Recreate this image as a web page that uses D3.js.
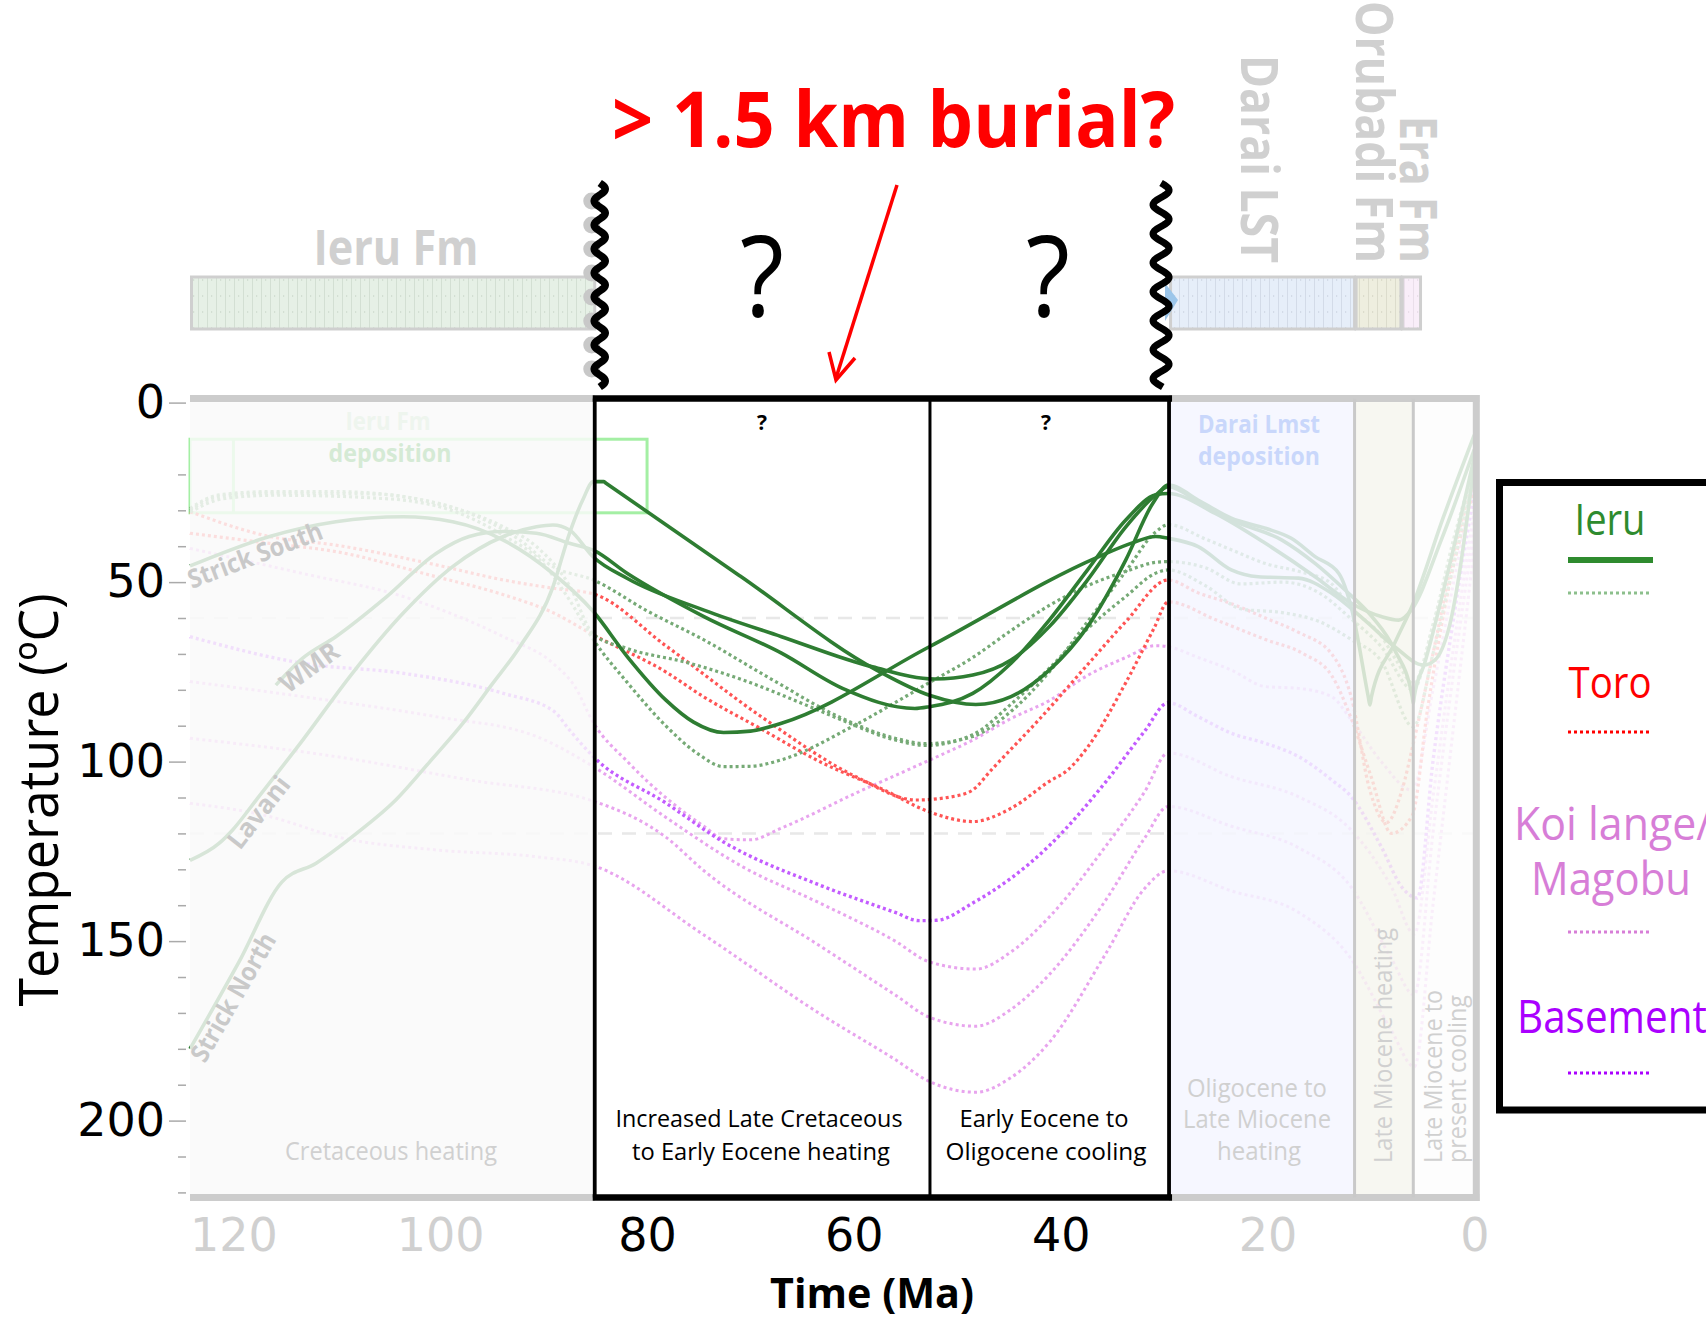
<!DOCTYPE html>
<html><head><meta charset="utf-8">
<script src="https://cdn.jsdelivr.net/npm/d3@7"></script>
<style>body{margin:0;background:#fff}svg{display:block}</style>
</head><body>
<svg id="c" width="1706" height="1321"></svg>
<script>
// ---------------- DATA (time Ma, temperature °C) ----------------
const strickNorth = [[124.2,180],[119.5,156],[115.3,133.5],[112.0,128.3],[108.1,120.0],[104.3,110.7],[101.0,100.0],[97.8,89.3],[95,78.5],[92.3,68.0],[89.1,51.3],[87.5,36.4],[86.2,27],[85.2,22.0],[84.2,22.0],[84.0,22.4],[71.0,48.3],[57.8,74.5],[52.7,81.5],[48.2,84.1],[44.8,81.9],[41.1,74.5],[37.4,62.4],[33.7,43.8],[31.1,28.1],[29.6,23.0],[26.5,27.5],[23.5,32.2],[20.2,35.0],[17.7,37.8],[15.4,42.9],[13.1,47.6],[11.9,57.0],[10.25,82.0],[10.1,84.2],[9.95,82.0],[7.7,67.0],[5.9,55.9],[3.0,32.0],[0.0,9.0]];
const wmr = [[115.9,78.7],[113.3,71.2],[110.1,65.2],[105.2,54.1],[100.4,42.0],[97.2,37.3],[93.9,35.9],[90.7,36.4],[87.5,39.2],[85.2,41.1],[81.9,47.6],[74.5,59.6],[67.0,69.8],[61.1,79.6],[54.1,85.2],[52.7,84.7],[48.5,81.0],[44.8,72.6],[41.1,60.6],[37.4,46.6],[33.7,32.7],[30.8,25.7],[29.6,25.3],[25.1,30.8],[20.2,39.2],[15.4,48.5],[11.9,55.9],[9.0,59.6],[7.3,60.6],[6.1,57.8],[3.2,38.3],[0.0,13.0]];
const lavani = [[124.2,127.5],[121.4,122.8],[120.1,119.1],[117.8,110.7],[113.3,94.0],[108.5,75.4],[103.6,58.7],[98.8,45.7],[93.9,37.3],[90.7,34.6],[89.1,34.1],[87.5,35.5],[85.2,43.0],[81.9,49.0],[74.5,57.8],[67.0,65.2],[58.2,73.6],[52.2,77.0],[48.5,75.9],[44.8,71.7],[41.1,62.4],[37.4,49.4],[33.7,34.6],[30.8,25.7],[29.6,23.4],[26.5,28.0],[23.5,32.7],[18.6,38.3],[15.4,44.8],[12.5,52.2],[9.9,59.6],[7.7,68.9],[6.0,82.0],[5.9,83.8],[5.8,81.8],[4.8,72.6],[2.5,46.6],[0.0,15.1]];
const strickSouth = [[124.2,45.5],[116.5,37.3],[110.1,33.2],[103.6,31.8],[98.8,33.2],[93.9,38.3],[89.1,47.6],[85.2,58.2],[81.9,70.8],[78.2,82.8],[75.5,89],[72.6,91.9],[70,91.5],[67.0,89.3],[52.7,68.0],[36.3,42.9],[33,39],[30.8,37.3],[29.6,37.8],[26.7,40.1],[23.5,46.6],[20.9,48.5],[17.0,48.9],[13.8,53.1],[10.6,60.6],[7.7,68.0],[4.9,73.1],[3.8,71.7],[2.5,63.3],[0.0,16.9]];

const ieruDot1 = [[124.2,29.5],[121.4,25.7],[116.5,24.8],[110.1,24.8],[103.6,26.2],[97.2,30.8],[92.3,38.3],[89.1,45.7],[85.2,49.4],[80.0,58.0],[74.5,66.1],[68.0,77.0],[61.1,88.0],[56.0,93.5],[53.0,95.0],[48.5,93.0],[44.8,86.0],[41.1,75.0],[37.4,61.0],[33.7,47.0],[30.8,36.0],[29.6,34.0],[26.0,38.0],[23.5,41.0],[20.0,45.0],[17.0,47.0],[14.0,50.0],[12.0,57.0],[9.0,65.0],[7.5,72.0],[5.9,78.2],[4.0,62.0],[2.0,38.0],[0.0,18.0]];
const ieruDot2 = [[124.2,30.0],[121.4,26.2],[116.5,25.2],[106.0,25.5],[100.4,28.1],[93.9,34.6],[90.7,40.1],[87.5,51.0],[85.2,64.5],[81.9,68.5],[76.0,72.5],[70.7,77.3],[64.0,85.0],[61.1,88.5],[56.0,94.0],[53.0,95.5],[48.5,92.5],[44.8,84.0],[41.1,74.0],[37.4,63.0],[33.7,54.0],[30.8,47.5],[29.6,46.6],[26.0,51.0],[22.5,57.5],[18.6,58.5],[15.0,61.0],[11.9,66.0],[9.0,72.0],[5.9,90.3],[4.0,70.0],[2.0,45.0],[0.0,20.0]];
const ieruDot3 = [[124.2,30.5],[121.0,26.8],[116.0,25.8],[105.0,26.8],[98.0,31.0],[93.9,37.0],[90.0,45.0],[87.5,55.0],[85.2,66.0],[81.9,78.0],[78.2,90.0],[75,98],[72.6,101.4],[70,101.3],[67.0,99.5],[60.0,90.0],[52.7,78.0],[48.5,71.0],[44.8,63.5],[41.1,56.5],[37.4,51.0],[33.7,47.0],[30.8,44.5],[29.6,44.3],[26.0,46.0],[22.6,50.5],[18.5,50.0],[15.0,53.0],[12.0,60.0],[9.0,68.0],[5.9,80.0],[4.0,62.0],[2.0,40.0],[0.0,19.0]];

const toroA = [[124.2,30.4],[116.5,37.3],[110.1,39.7],[100.4,45.2],[93.9,49.4],[89.1,51.7],[85.2,53.3],[78.2,67.7],[68.9,87.6],[59.6,104.5],[54.0,110.7],[50.0,109.5],[48.5,107.9],[46.7,102.3],[42.0,88.0],[37.4,73.0],[33.7,61.0],[29.6,49.4],[26.7,53.0],[23.5,56.0],[20.2,60.0],[17.0,64.0],[13.8,70.0],[11.9,82.0],[10.1,108.0],[8.5,117.0],[7.0,108.0],[5.9,95.0],[4.0,70.0],[2.0,42.0],[0.0,20.0]];
const toroB = [[124.2,36.4],[116.5,39.2],[110.1,41.5],[100.4,48.5],[93.9,53.5],[89.1,58.5],[85.2,64.7],[78.2,75.0],[74.5,82.0],[68.9,91.0],[63.3,100.0],[57,108],[52.7,114.0],[48.5,116.7],[44.8,113.0],[41.1,105.5],[39.3,102.3],[37.4,96.0],[33.7,78.0],[31.0,63.0],[29.6,55.5],[25.0,60.5],[20.2,66.0],[16.5,70.0],[13.8,76.0],[11.9,88.0],[10.0,104.0],[8.0,120.0],[6.0,115.0],[4.5,85.0],[2.5,52.0],[0.0,24.0]];

const koiA = [[124.2,40.6],[113.3,47.6],[103.6,54.0],[93.9,65.2],[89.1,72.6],[87,79],[85.2,89.1],[81.9,100.0],[78.2,110.0],[74.5,118.0],[72.6,121.5],[70.0,121.8],[67.0,118.5],[59.6,108.5],[52.7,99.6],[48.5,94.0],[44.8,88.0],[41.1,83.0],[37.4,76.0],[33.7,71.0],[30.8,67.7],[29.6,68.0],[26.7,71.0],[23.5,74.5],[20.2,79.1],[17.0,79.6],[13.8,81.9],[11.9,88.4],[9.0,100.0],[6.0,108.0],[4.0,80.0],[2.0,50.0],[0.0,22.0]];
const koiB = [[124.2,77.7],[113.3,81.9],[100.4,87.5],[90.7,93.0],[85.2,101.4],[78.2,115.5],[70.7,129.4],[63.3,139.4],[56,150],[52.7,155.8],[48.2,157.8],[44.8,153],[41.1,143.3],[35.6,123.4],[31.9,108.5],[29.6,97.6],[23.5,104.2],[17.0,109.8],[11.9,119.1],[8.0,135.0],[5.8,148.0],[4.0,110.0],[2.0,68.0],[0.0,30.0]];
const koiC = [[124.2,93.5],[110.1,98.6],[97.2,105.1],[85.2,111.0],[78.2,121.0],[74.5,130.4],[63.3,151.3],[56,165],[52.7,171.2],[48.2,173.7],[44.8,169],[41.1,159.3],[35.6,138.4],[31.9,121.4],[29.6,112.5],[23.5,118.0],[17.0,124.0],[11.9,135.0],[8.0,155.0],[5.8,165.0],[4.0,120.0],[2.0,75.0],[0.0,35.0]];
const koiD = [[124.2,111.6],[116.5,115.3],[110.1,120.9],[100.4,124.6],[90.7,126.5],[85.2,129.0],[74.5,148.3],[63.3,170.2],[56,183],[52.7,189.1],[48.2,192.1],[44.8,188],[41.1,178.2],[35.6,153.3],[31.9,135.4],[29.6,130.4],[23.5,136.0],[17.0,142.0],[11.9,155.0],[8.0,175.0],[5.8,185.0],[4.0,140.0],[2.0,90.0],[0.0,40.0]];
const basementA = [[124.2,65.2],[113.3,72.6],[103.6,75.4],[93.9,81.0],[89,86],[87.5,91.2],[85.2,98.6],[78.2,111.5],[72.6,122.4],[63.3,134.4],[56,142],[53.7,144.3],[52.0,144.2],[48.5,139.4],[41.1,123.4],[35.6,105.5],[31.9,91.6],[29.6,83.6],[26.7,87.5],[23.5,92.1],[20.2,94.9],[17.0,98.6],[13.8,105.1],[11.9,109.8],[9.0,123.7],[7.0,135.0],[5.5,138.0],[4.0,100.0],[2.0,60.0],[0.0,25.0]];

// time boundaries (Ma)
const tStart = 124.2, tUnc1 = 85.06, tMid = 52.64, tUnc2 = 29.52, tLM1 = 11.58, tLM2 = 5.9, tEnd = 0;
const xTicks = [120,100,80,60,40,20,0];
const xTickLabels = ['120','100','80','60','40','20','0'];
const yTicks = [0,50,100,150,200];
const yMinor = [20,30,40,60,70,80,90,110,120,130,140,160,170,180,190,210,220];
const pazLimits = [60,120];
const ieruDepT = [124.2,80], ieruDepTemp = [10.2,30.7], ieruDepInner = 120;
const formations = ['Ieru Fm','Darai LST','Orubadi Fm','Era Fm'];
const formStart = [124.2,29.52,11.58,7.1];
const formEnd = [85.06,11.58,7.1,5.2];
const legendNames = ['Ieru','Toro','Koi lange/','Basement'];

// ---------------- SCALES ----------------
const x = d3.scaleLinear().domain([tStart, tEnd]).range([190, 1474.3]);
const y = d3.scaleLinear().domain([0, 221]).range([402.6, 1196]);

const svg = d3.select('#c');
svg.append('rect').attr('width',1706).attr('height',1321).attr('fill','#fff');
const defs = svg.append('defs');
function vpattern(id,bg,ln){
  const p = defs.append('pattern').attr('id',id).attr('width',9).attr('height',16).attr('patternUnits','userSpaceOnUse');
  p.append('rect').attr('width',9).attr('height',16).attr('fill',bg);
  p.append('line').attr('x1',0.5).attr('x2',0.5).attr('y1',0).attr('y2',16).attr('stroke',ln).attr('stroke-width',1);
  p.append('rect').attr('x',4).attr('y',7).attr('width',1.2).attr('height',2).attr('fill',ln);
}
vpattern('pIeru','#e6f0e6','#d3dfd3');
vpattern('pDarai','#e6eef9','#d3dbe8');
vpattern('pOru','#eeeedf','#dcdccc');
vpattern('pEra','#f9eef9','#eadfea');

const FF = "'Open Sans', sans-serif";
function T(parent, str, px, py, o={}){
  const t = parent.append('text').attr('x',px).attr('y',py).text(str)
    .attr('font-family', o.ff || FF).attr('font-size', o.fs || 24)
    .attr('font-weight', o.fw || 400).attr('fill', o.fill || '#000')
    .attr('text-anchor', o.anchor || 'middle');
  if (o.len) t.attr('textLength', o.len).attr('lengthAdjust','spacingAndGlyphs');
  if (o.tr) t.attr('transform', o.tr);
  return t;
}

// ---------------- PLOT BACKGROUNDS ----------------
const regions = [
  {a:tStart, b:tUnc1, fill:'#fafafa', over:true},
  {a:tUnc1, b:tUnc2, fill:'#ffffff', over:false},
  {a:tUnc2, b:tLM1, fill:'#f5f7ff', over:true},
  {a:tLM1, b:tLM2, fill:'#f7f7f1', over:true},
  {a:tLM2, b:tEnd, fill:'#fcfcfc', over:true}
];
const gBg = svg.append('g');
regions.forEach(r=>gBg.append('rect').attr('x',x(r.a)).attr('y',y(0)).attr('width',x(r.b)-x(r.a)).attr('height',y(221)-y(0)).attr('fill',r.fill));

// PAZ dashed lines
pazLimits.forEach(v=>svg.append('line').attr('x1',x(tStart)).attr('x2',x(tEnd)).attr('y1',y(v)).attr('y2',y(v))
  .attr('stroke','#e8e8e8').attr('stroke-width',2.5).attr('stroke-dasharray','14,10'));

// Ieru deposition box
svg.append('rect').attr('x',x(ieruDepT[0])).attr('y',y(ieruDepTemp[0])).attr('width',x(ieruDepT[1])-x(ieruDepT[0]))
  .attr('height',y(ieruDepTemp[1])-y(ieruDepTemp[0])).attr('fill','none').attr('stroke','#a4efa4').attr('stroke-width',3);
svg.append('line').attr('x1',x(ieruDepInner)).attr('x2',x(ieruDepInner)).attr('y1',y(ieruDepTemp[0])).attr('y2',y(ieruDepTemp[1]))
  .attr('stroke','#a4efa4').attr('stroke-width',3);

// ---------------- CURVES ----------------
const line = d3.line().x(d=>x(d[0])).y(d=>y(d[1])).curve(d3.curveMonotoneX);
const series = [
  {curves:[koiA,koiB,koiC,koiD], color:'#e8a4ee', w:3, dash:'3,3.2'},
  {curves:[basementA], color:'#c35cff', w:3.4, dash:'3,3'},
  {curves:[toroA,toroB], color:'#ff5454', w:3.2, dash:'3,3'},
  {curves:[ieruDot1,ieruDot2,ieruDot3], color:'#76aa76', w:3.2, dash:'3,3'},
  {curves:[strickNorth,wmr,lavani,strickSouth], color:'#2e7d32', w:3.6, dash:null}
];
const gC = svg.append('g');
series.forEach(s=>{
  gC.selectAll(null).data(s.curves).enter().append('path')
    .attr('d',line).attr('fill','none').attr('stroke',s.color).attr('stroke-width',s.w)
    .attr('stroke-dasharray',s.dash).attr('stroke-linejoin','round');
});

// fading overlays on side regions
regions.filter(r=>r.over).forEach(r=>svg.append('rect').attr('x',x(r.a)).attr('y',y(0)-4).attr('width',x(r.b)-x(r.a)).attr('height',y(221)-y(0)+8).attr('fill',r.fill).attr('fill-opacity',0.83));

// faint texts in side regions
T(svg,'Ieru Fm',388,430,{fs:25,fw:700,fill:'#eef5ee',len:85});
T(svg,'deposition',390,462,{fs:25,fw:700,fill:'#d5ead5',len:123});
T(svg,'Darai Lmst',1259,433,{fs:25,fw:700,fill:'#c9d7fb',len:122});
T(svg,'deposition',1259,465,{fs:25,fw:700,fill:'#c9d7fb',len:122});
T(svg,'Cretaceous heating',391,1160,{fs:25,fill:'#d0d0d0',len:212});
T(svg,'Oligocene to',1257,1097,{fs:25,fill:'#d0d0d0',len:140});
T(svg,'Late Miocene',1257,1128,{fs:25,fill:'#d0d0d0',len:148});
T(svg,'heating',1259,1160,{fs:25,fill:'#d0d0d0',len:84});
T(svg,'Late Miocene heating',0,0,{fs:25,fill:'#d0d0d0',anchor:'start',len:235,tr:'translate(1392,1163) rotate(-90)'});
T(svg,'Late Miocene to',0,0,{fs:25,fill:'#d0d0d0',anchor:'start',len:173,tr:'translate(1442,1163) rotate(-90)'});
T(svg,'present cooling',0,0,{fs:25,fill:'#d0d0d0',anchor:'start',len:168,tr:'translate(1466,1163) rotate(-90)'});
// curve labels
const lblStyle = {fs:26,fw:700,fill:'#c9c9c9',anchor:'start'};
T(svg,'Strick South',0,0,Object.assign({len:142,tr:'translate(192,589) rotate(-21)'},lblStyle));
T(svg,'WMR',0,0,Object.assign({len:66,tr:'translate(288,694) rotate(-36)'},lblStyle));
T(svg,'Lavani',0,0,Object.assign({len:84,tr:'translate(240,851) rotate(-52)'},lblStyle));
T(svg,'Strick North',0,0,Object.assign({len:144,tr:'translate(205,1064) rotate(-60)'},lblStyle));

// ---------------- FRAMES ----------------
const yTop = 398.5, yBot = 1197.5;
[[x(tStart), x(tUnc1)],[x(tUnc2), x(tEnd)+5]].forEach(([a,b])=>{
  svg.append('line').attr('x1',a).attr('x2',b).attr('y1',yTop).attr('y2',yTop).attr('stroke','#cccccc').attr('stroke-width',7);
  svg.append('line').attr('x1',a).attr('x2',b).attr('y1',yBot).attr('y2',yBot).attr('stroke','#cccccc').attr('stroke-width',7);
});
svg.append('line').attr('x1',x(tEnd)+2).attr('x2',x(tEnd)+2).attr('y1',yTop-3.5).attr('y2',yBot+3.5).attr('stroke','#cccccc').attr('stroke-width',7);
[tLM1,tLM2].forEach(t=>svg.append('line').attr('x1',x(t)).attr('x2',x(t)).attr('y1',yTop).attr('y2',yBot).attr('stroke','#c9c9c9').attr('stroke-width',3));
svg.append('line').attr('x1',x(tUnc1)-2).attr('x2',x(tUnc2)+3).attr('y1',yTop).attr('y2',yTop).attr('stroke','#000').attr('stroke-width',6.5);
svg.append('line').attr('x1',x(tUnc1)-2).attr('x2',x(tUnc2)+3).attr('y1',yBot).attr('y2',yBot).attr('stroke','#000').attr('stroke-width',6.5);
[[tUnc1,3.8],[tMid,3],[tUnc2,3.8]].forEach(([t,w])=>svg.append('line').attr('x1',x(t)).attr('x2',x(t)).attr('y1',yTop).attr('y2',yBot).attr('stroke','#000').attr('stroke-width',w));

// middle texts
T(svg,'?',762,430,{fs:21,fw:700});
T(svg,'?',1046,430,{fs:21,fw:700});
T(svg,'Increased Late Cretaceous',759,1127,{fs:24,len:287});
T(svg,'to Early Eocene heating',761,1160,{fs:24,len:258});
T(svg,'Early Eocene to',1044,1127,{fs:24,len:169});
T(svg,'Oligocene cooling',1046,1160,{fs:24,len:201});

// ---------------- AXES ----------------
const axFont = "'DejaVu Sans', sans-serif";
const gy = svg.append('g').attr('transform','translate(186,0)')
  .call(d3.axisLeft(y).tickValues(yTicks).tickSize(17).tickPadding(4).tickFormat(d3.format('d')));
gy.select('.domain').remove();
gy.selectAll('line').attr('stroke','#aaaaaa').attr('stroke-width',1.5);
gy.selectAll('text').attr('font-family',axFont).attr('font-size',46).attr('fill','#000');
const gym = svg.append('g').attr('transform','translate(186,0)')
  .call(d3.axisLeft(y).tickValues(yMinor).tickSize(8).tickFormat(''));
gym.select('.domain').remove();
gym.selectAll('line').attr('stroke','#aaaaaa').attr('stroke-width',1.5);

const gx = svg.append('g').attr('transform','translate(0,1200)')
  .call(d3.axisBottom(x).tickValues(xTicks).tickSize(0).tickPadding(18).tickFormat((d,i)=>xTickLabels[i]));
gx.select('.domain').remove();
gx.selectAll('text').attr('font-family',axFont).attr('font-size',46)
  .attr('fill',d=>(d<=tUnc1 && d>=tUnc2)?'#000':'#d0d0d0');

T(svg,'Temperature (ºC)',0,0,{fs:54,len:413,tr:'translate(58,800) rotate(-90)'});
T(svg,'Time (Ma)',872,1308,{fs:41,fw:700,len:204});

// ---------------- TOP STRATIGRAPHY ----------------
const barY = 277, barH = 52;
const fills = ['url(#pIeru)','url(#pDarai)','url(#pOru)','url(#pEra)'];
formations.forEach((f,i)=>{
  svg.append('rect').attr('x',x(formStart[i])+1.5).attr('y',barY).attr('width',x(formEnd[i])-x(formStart[i])-1.5).attr('height',barH)
    .attr('fill',fills[i]).attr('stroke','#cfcfcf').attr('stroke-width',3);
});
svg.append('path').attr('d','M1165,283 L1178,300 L1165,321 Z').attr('fill','#9cc6ea');
T(svg,'Ieru Fm',396,265,{fs:48,fw:700,fill:'#d0d0d0',len:165});
T(svg,'Darai LST',0,0,{fs:52,fw:700,fill:'#d0d0d0',anchor:'end',len:208,tr:'translate(1241,263) rotate(90)'});
T(svg,'Orubadi Fm',0,0,{fs:52,fw:700,fill:'#d0d0d0',anchor:'end',len:262,tr:'translate(1356,263) rotate(90)'});
T(svg,'Era Fm',0,0,{fs:52,fw:700,fill:'#d0d0d0',anchor:'end',len:147,tr:'translate(1400,263) rotate(90)'});

// unconformities (wavy lines)
function wave(cx, amp, per, y0, y1){
  const pts = d3.range(y0, y1+0.1, 1).map(v=>[cx + amp*Math.sin(2*Math.PI*(v-y0)/per), v]);
  return d3.line()(pts);
}
const c1 = x(tUnc1)+5, per1 = 24;
d3.range(183 + 0.75*per1, 387, per1).forEach(v=>svg.append('circle').attr('cx',c1-8).attr('cy',v).attr('r',8.5).attr('fill','#c8c8c8'));
svg.append('path').attr('d',wave(c1,5.5,per1,183,387)).attr('fill','none').attr('stroke','#000').attr('stroke-width',7.5);
svg.append('path').attr('d',wave(x(tUnc2)-8,8,29,183,387)).attr('fill','none').attr('stroke','#000').attr('stroke-width',7);

// big question marks
T(svg,'?',762,316,{fs:112,len:44});
T(svg,'?',1048,316,{fs:112,len:44});

// title & arrow
T(svg,'> 1.5 km burial?',612,147,{fs:77,fw:700,fill:'#ff0000',anchor:'start',len:563});
svg.append('line').attr('x1',897).attr('y1',185).attr('x2',836).attr('y2',378).attr('stroke','#ff0000').attr('stroke-width',3.5);
svg.append('path').attr('d','M829,352 L836,380 L855,358').attr('fill','none').attr('stroke','#ff0000').attr('stroke-width',3.5);

// ---------------- LEGEND ----------------
svg.append('rect').attr('x',1499.5).attr('y',482.5).attr('width',260).attr('height',627.5).attr('fill','#fff').attr('stroke','#000').attr('stroke-width',7);
const legColors = ['#2e8b2e','#ff0000','#d77ed7','#aa00ff'];
T(svg,legendNames[0],1610,535,{fs:44,fill:legColors[0],len:71});
svg.append('line').attr('x1',1568).attr('x2',1653).attr('y1',560).attr('y2',560).attr('stroke','#2e8b2e').attr('stroke-width',6);
svg.append('line').attr('x1',1568).attr('x2',1651).attr('y1',593).attr('y2',593).attr('stroke','#8cbf8c').attr('stroke-width',3).attr('stroke-dasharray','3,3');
T(svg,legendNames[1],1610,698,{fs:44,fill:legColors[1],len:83});
svg.append('line').attr('x1',1568).attr('x2',1651).attr('y1',732).attr('y2',732).attr('stroke','#ff0000').attr('stroke-width',3).attr('stroke-dasharray','3,3');
T(svg,legendNames[2],1514,840,{fs:46,fill:legColors[2],anchor:'start',len:198});
T(svg,'Magobu',1611,895,{fs:46,fill:legColors[2],len:160});
svg.append('line').attr('x1',1568).attr('x2',1651).attr('y1',932).attr('y2',932).attr('stroke','#d77ed7').attr('stroke-width',3).attr('stroke-dasharray','3,3');
T(svg,legendNames[3],1517,1033,{fs:46,fill:legColors[3],anchor:'start',len:190});
svg.append('line').attr('x1',1568).attr('x2',1651).attr('y1',1073).attr('y2',1073).attr('stroke','#aa00ff').attr('stroke-width',3).attr('stroke-dasharray','3,3');
</script>
</body></html>
